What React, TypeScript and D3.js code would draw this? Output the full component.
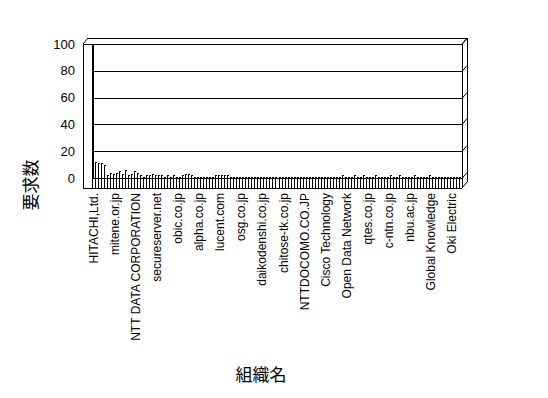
import React from 'react';
import * as d3 from 'd3';

// Organisations shown on the axis (one label per seven bars)
const organizations = [
  'HITACHI,Ltd.',
  'mitene.or.jp',
  'NTT DATA CORPORATION',
  'secureserver.net',
  'obic.co.jp',
  'alpha.co.jp',
  'lucent.com',
  'osg.co.jp',
  'daikodenshi.co.jp',
  'chitose-tk.co.jp',
  'NTTDOCOMO.CO.JP',
  'Cisco Technology',
  'Open Data Network',
  'qtes.co.jp',
  'c-ntn.co.jp',
  'nbu.ac.jp',
  'Global Knowledge',
  'Oki Electric',
];
const labelEvery = 7;

// Request counts per organisation
const requestCounts = [
  100, 12, 11, 11, 10, 2, 4, 3, 4, 5,
  3, 6, 2, 3, 5, 4, 2, 1, 2, 2,
  3, 2, 2, 2, 1, 2, 1, 2, 1, 1,
  2, 3, 3, 2, 1, 1, 1, 1, 1, 1,
  1, 2, 2, 2, 2, 2, 1, 1, 1, 1,
  1, 1, 1, 1, 1, 1, 1, 1, 1, 1,
  1, 1, 1, 1, 1, 1, 1, 1, 1, 1,
  1, 1, 1, 1, 1, 1, 1, 1, 1, 1,
  1, 1, 1, 2, 1, 1, 1, 2, 1, 1,
  2, 1, 1, 1, 2, 1, 1, 1, 1, 2,
  1, 1, 2, 1, 1, 1, 1, 2, 1, 1,
  1, 1, 2, 1, 1, 1, 1, 1, 1, 1,
  1, 1, 1,
];

const yTicks = [0, 20, 40, 60, 80, 100];

const W = 548;
const H = 398;
const plot = { left: 92, right: 462, top: 44, bottom: 178 };
const frame = { left: 83, bottom: 188 };
const depth = { dx: 5, dy: -6 };

const latin = '"Liberation Sans", Arial, sans-serif';
const cjk = '"Noto Sans CJK JP", sans-serif';

export default function App() {
  const idx = d3.range(requestCounts.length);
  const x = d3.scaleBand<number>().domain(idx).range([plot.left, plot.right]).padding(0);
  const y = d3.scaleLinear().domain([0, 100]).range([plot.bottom, plot.top]);
  const bw = x.bandwidth();

  const line = (x1: number, y1: number, x2: number, y2: number, key: string) => (
    <line key={key} x1={x1} y1={y1} x2={x2} y2={y2} stroke="#000" strokeWidth={1} />
  );

  return (
    <svg
      width={W}
      height={H}
      style={{ position: 'absolute', left: 0, top: 0, background: '#fff' }}
      shapeRendering="crispEdges"
    >
      <rect x={0} y={0} width={W} height={H} fill="#fff" />

      {/* 3D frame */}
      {line(frame.left, y(100), frame.left, frame.bottom, 'fl')}
      {line(frame.left, y(100), plot.right, y(100), 'ft')}
      {line(frame.left, frame.bottom, plot.right, frame.bottom, 'fb')}
      {line(plot.right, y(100), plot.right, frame.bottom, 'fr')}
      {line(frame.left + depth.dx, y(100) + depth.dy, plot.right + depth.dx, y(100) + depth.dy, 'bt')}
      {line(plot.right + depth.dx, y(100) + depth.dy, plot.right + depth.dx, frame.bottom + depth.dy, 'br')}
      <g shapeRendering="auto">
        {line(frame.left, y(100), frame.left + depth.dx, y(100) + depth.dy, 'd1')}
        {line(plot.right, y(100), plot.right + depth.dx, y(100) + depth.dy, 'd2')}
        {line(plot.right, frame.bottom, plot.right + depth.dx, frame.bottom + depth.dy, 'd3')}
      </g>

      {/* gridlines */}
      {yTicks.map((t) => (
        <g key={'g' + t}>
          {line(plot.left, Math.round(y(t)) + 0.5, plot.right, Math.round(y(t)) + 0.5, 'h')}
          <g shapeRendering="auto">
            {line(plot.right, Math.round(y(t)) + 0.5, plot.right + depth.dx, Math.round(y(t)) + 0.5 + depth.dy, 'dd')}
          </g>
        </g>
      ))}

      {/* floor comb */}
      {d3.range(requestCounts.length + 1).map((i) => {
        const xx = Math.round(plot.left + i * bw) + 0.5;
        return line(xx, plot.bottom, xx, frame.bottom, 'c' + i);
      })}

      {/* bars: thin front edge plus a short top face */}
      {requestCounts.map((v, i) => {
        const bx = Math.round(x(i) as number);
        const top = Math.round(y(v));
        const frontW = i === 0 ? 2 : 1;
        return (
          <g key={'b' + i}>
            <rect x={bx} y={top} width={frontW} height={plot.bottom - top + 1} fill="#000" />
            <rect x={bx} y={top} width={Math.max(frontW, Math.round(bw * 0.8))} height={1} fill="#000" />
          </g>
        );
      })}

      {/* y tick labels */}
      {yTicks.map((t) => (
        <text
          key={'t' + t}
          x={75}
          y={y(t)}
          dy="0.36em"
          textAnchor="end"
          fontFamily={latin}
          fontSize={13}
          fill="#000"
        >
          {t}
        </text>
      ))}

      {/* category labels */}
      {organizations.map((name, k) => {
        const cx = (x(k * labelEvery) as number) + bw / 2 + 4.5;
        return (
          <text
            key={'l' + k}
            transform={`translate(${cx},193) rotate(-90)`}
            textAnchor="end"
            fontFamily={latin}
            fontSize={12}
            fill="#000"
          >
            {name}
          </text>
        );
      })}

      {/* axis titles */}
      <text
        transform="translate(31,185) rotate(-90)"
        textAnchor="middle"
        dy="0.36em"
        fontFamily={cjk}
        fontSize={17}
        fill="#000"
      >
        要求数
      </text>
      <text
        x={261}
        y={375}
        dy="0.36em"
        textAnchor="middle"
        fontFamily={cjk}
        fontSize={17}
        fill="#000"
      >
        組織名
      </text>
    </svg>
  );
}
